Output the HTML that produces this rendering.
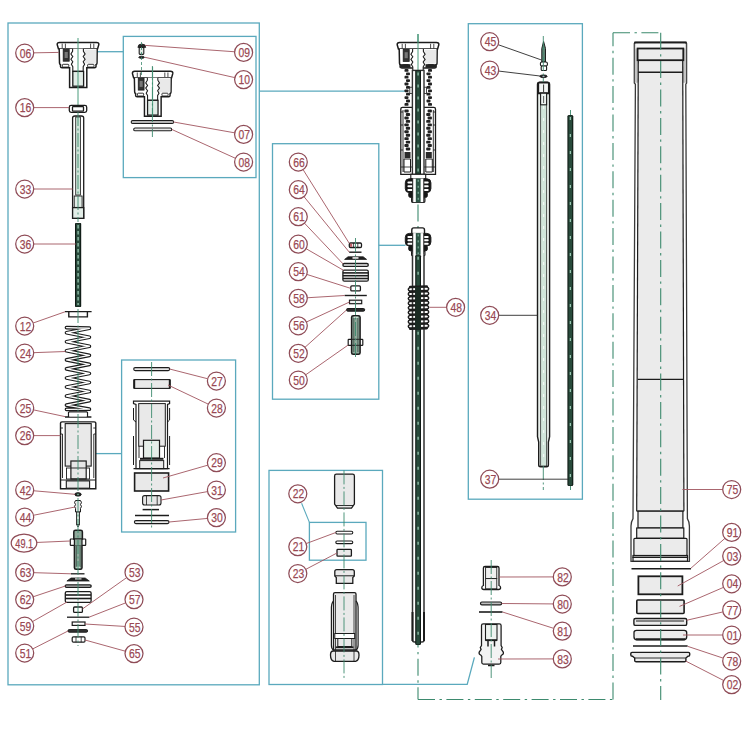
<!DOCTYPE html>
<html><head><meta charset="utf-8"><style>
html,body{margin:0;padding:0;background:#fff;}
svg{display:block;font-family:"Liberation Sans",sans-serif;}
</style></head><body>
<svg width="750" height="750" viewBox="0 0 750 750">
<rect width="750" height="750" fill="#fff"/>
<rect x="8" y="23" width="251.3" height="661.8" fill="none" stroke="#5aa9bd" stroke-width="1.3" rx="0" />
<rect x="123.3" y="36.4" width="132.7" height="141.2" fill="none" stroke="#5aa9bd" stroke-width="1.3" rx="0" />
<rect x="121.6" y="360" width="114.0" height="172" fill="none" stroke="#5aa9bd" stroke-width="1.3" rx="0" />
<rect x="272.5" y="143.7" width="106.30000000000001" height="255.5" fill="none" stroke="#5aa9bd" stroke-width="1.3" rx="0" />
<rect x="269" y="470.4" width="113.5" height="214.10000000000002" fill="none" stroke="#5aa9bd" stroke-width="1.3" rx="0" />
<rect x="309.4" y="522.4" width="56.60000000000002" height="37.80000000000007" fill="none" stroke="#5aa9bd" stroke-width="1.3" rx="0" />
<rect x="468.3" y="23.7" width="114.09999999999997" height="475.5" fill="none" stroke="#5aa9bd" stroke-width="1.3" rx="0" />
<line x1="92" y1="51.7" x2="123.3" y2="51.7" stroke="#5aa9bd" stroke-width="1.3" />
<line x1="259.3" y1="91.1" x2="405" y2="91.1" stroke="#5aa9bd" stroke-width="1.3" />
<line x1="96" y1="453.6" x2="121.6" y2="453.6" stroke="#5aa9bd" stroke-width="1.3" />
<line x1="378.8" y1="245.3" x2="405.5" y2="245.3" stroke="#5aa9bd" stroke-width="1.3" />
<line x1="301.6" y1="503.3" x2="309.4" y2="522.4" stroke="#5aa9bd" stroke-width="1.1" />
<path d="M382.5 684.4 L467.2 684.4 L474.4 657.3" fill="none" stroke="#5aa9bd" stroke-width="1.3" />
<line x1="418" y1="34" x2="418" y2="699.5" stroke="#3d8a6e" stroke-width="1.1" stroke-dasharray="17 4.5 2.4 4.5"/>
<line x1="418" y1="699.5" x2="613" y2="699.5" stroke="#3d8a6e" stroke-width="1.1" stroke-dasharray="17 4.5 2.4 4.5"/>
<line x1="613" y1="699.5" x2="613" y2="32.7" stroke="#3d8a6e" stroke-width="1.1" stroke-dasharray="17 4.5 2.4 4.5"/>
<line x1="613" y1="32.7" x2="660.7" y2="32.7" stroke="#3d8a6e" stroke-width="1.1" stroke-dasharray="17 4.5 2.4 4.5"/>
<g transform="translate(0 0) translate(78 0) scale(1 1) translate(-78 0)">
<path d="M57.2 44.6 Q57 42.4 59.5 42.4 L96.5 42.4 Q99.2 42.4 98.8 44.6 L97.6 48.8 L58.4 48.8 Z" fill="#fff" stroke="#1c1c1c" stroke-width="1.5" />
<line x1="62.2" y1="43.6" x2="62.2" y2="48.3" stroke="#1c1c1c" stroke-width="0.8" />
<line x1="65.4" y1="43.6" x2="65.4" y2="48.3" stroke="#1c1c1c" stroke-width="0.8" />
<line x1="90.6" y1="43.6" x2="90.6" y2="48.3" stroke="#1c1c1c" stroke-width="0.8" />
<line x1="93.8" y1="43.6" x2="93.8" y2="48.3" stroke="#1c1c1c" stroke-width="0.8" />
<path d="M59.2 48.8 L59.5 63 Q59.5 64.2 60.5 64.6 L60.5 66.5 Q60.5 67.8 62 67.8 L69.6 67.8 L69.6 87.4 L86.8 87.4 L86.8 67.8 L94.5 67.8 Q96 67.8 96 66.5 L96 64.6 Q97 64.2 97 63 L97.2 48.8" fill="#fff" stroke="#1c1c1c" stroke-width="1.5" />
<rect x="84.6" y="49.6" width="11.6" height="13.8" fill="#e9e9e9" stroke="none" stroke-width="0" rx="0" />
<rect x="63.2" y="49.2" width="6" height="12" fill="#333" stroke="#1c1c1c" stroke-width="0.8" rx="0" />
<rect x="64.6" y="52" width="3.2" height="6" fill="#777" stroke="none" stroke-width="0" rx="0" />
<rect x="62.4" y="64.3" width="6.4" height="2.8" fill="#fff" stroke="#1c1c1c" stroke-width="0.9" rx="0.8" />
<rect x="87.6" y="64.3" width="6.4" height="2.8" fill="#fff" stroke="#1c1c1c" stroke-width="0.9" rx="0.8" />
<path d="M72.6 48.8 L72.6 51.3 L70.9 54 L72.8 56.6 L70.9 59.2 L72.8 61.8 L71.4 64.3 L72.8 66.6 L72.8 71.4 L83.2 71.4 L83.2 66.6 L84.6 64.3 L83.2 61.8 L85.1 59.2 L83.2 56.6 L85.1 54 L83.4 51.3 L83.4 48.8" fill="#fff" stroke="#1c1c1c" stroke-width="1.1" />
<rect x="72.8" y="71.4" width="10.8" height="14.8" fill="#e2ede7" stroke="#1c1c1c" stroke-width="1.3" rx="0" />
<line x1="78" y1="38" x2="78" y2="88" stroke="#4b9c7c" stroke-width="1.0" />
</g>
<line x1="78" y1="87.4" x2="78" y2="105.4" stroke="#4b9c7c" stroke-width="1.0" />
<rect x="69.3" y="105.4" width="17.4" height="6.9" fill="#fff" stroke="#1c1c1c" stroke-width="1.3" rx="1.8" />
<rect x="72.5" y="106.6" width="11" height="4.6" fill="#fff" stroke="#1c1c1c" stroke-width="1.3" rx="0.6" />
<path d="M72.6 218.3 L72.6 118 Q72.6 116 75 116 L81.4 116 Q83.7 116 83.7 118 L83.7 218.3 Z" fill="#fff" stroke="#1c1c1c" stroke-width="1.3" />
<rect x="75.7" y="117" width="4.8" height="78" fill="#cfe3d8" stroke="#1c1c1c" stroke-width="0.8" rx="0" />
<rect x="74.2" y="196" width="7.9" height="11.6" fill="#e2ede7" stroke="#1c1c1c" stroke-width="0.9" rx="0" />
<rect x="72.6" y="207.6" width="11.1" height="10.7" fill="#e2ede7" stroke="#1c1c1c" stroke-width="1.3" rx="0" />
<rect x="75" y="223" width="6.200000000000003" height="84" fill="#0f1a15" stroke="none" stroke-width="0" rx="0.8" />
<rect x="76.1" y="223.6" width="4.000000000000003" height="82.8" fill="#284a3b" stroke="none" stroke-width="0" rx="0" />
<line x1="78.1" y1="225" x2="78.1" y2="305" stroke="#9fcfb9" stroke-width="1.2" stroke-dasharray="3.4 2.6"/>
<path d="M65 311.6 L91.6 311.6 M68.8 311.6 L68.8 316.9 L87.4 316.9 L87.4 311.6" fill="none" stroke="#1c1c1c" stroke-width="1.4" />
<path d="M66.50 327.60 L89.40 328.20 L66.50 332.70 L89.40 337.25 L66.50 341.75 L89.40 346.30 L66.50 350.80 L89.40 355.35 L66.50 359.85 L89.40 364.40 L66.50 368.90 L89.40 373.45 L66.50 377.95 L89.40 382.50 L66.50 387.00 L89.40 391.55 L66.50 396.05 L89.40 400.60 L66.50 405.10 L89.40 409.15 L66.50 409.35" fill="none" stroke="#1c1c1c" stroke-width="3.7" stroke-linejoin="round" stroke-linecap="round"/>
<path d="M66.50 327.60 L89.40 328.20 L66.50 332.70 L89.40 337.25 L66.50 341.75 L89.40 346.30 L66.50 350.80 L89.40 355.35 L66.50 359.85 L89.40 364.40 L66.50 368.90 L89.40 373.45 L66.50 377.95 L89.40 382.50 L66.50 387.00 L89.40 391.55 L66.50 396.05 L89.40 400.60 L66.50 405.10 L89.40 409.15 L66.50 409.35" fill="none" stroke="#fff" stroke-width="1.4" stroke-linejoin="round" stroke-linecap="round"/>
<path d="M68.6 412 L68.6 416.8 M87.4 412 L87.4 416.8 M68.6 412 L87.4 412 M65 417 L91.4 417" fill="none" stroke="#1c1c1c" stroke-width="1.4" />
<rect x="69.2" y="412.6" width="17.6" height="4" fill="#fff" stroke="none" stroke-width="0" rx="0" />
<path d="M60.5 423 Q60.5 421.9 62 421.9 L94.3 421.9 Q95.8 421.9 95.8 423 L95.8 488.8 L60.5 488.8 Z" fill="#fff" stroke="#1c1c1c" stroke-width="1.4" />
<rect x="65.2" y="423.6" width="26" height="42.5" fill="#e9e9e9" stroke="#1c1c1c" stroke-width="1.1" rx="0" />
<path d="M60.5 428 L63 428 M95.8 428 L93.3 428 M60.5 434 L62.5 434 L62.5 478 M95.8 434 L93.8 434 L93.8 478" fill="none" stroke="#1c1c1c" stroke-width="0.9" />
<rect x="70.9" y="461" width="15.3" height="18" fill="#e7e7e7" stroke="#1c1c1c" stroke-width="1.2" rx="0" />
<rect x="66.5" y="468" width="23" height="11" fill="none" stroke="#1c1c1c" stroke-width="0.9" rx="0" />
<rect x="66.3" y="480.9" width="23.3" height="7.3" fill="#e9e9e9" stroke="#1c1c1c" stroke-width="1.1" rx="0" />
<line x1="60.5" y1="480" x2="95.8" y2="480" stroke="#1c1c1c" stroke-width="1" />
<ellipse cx="78" cy="494.4" rx="3.2" ry="1.7" fill="#222" stroke="#1c1c1c" stroke-width="1"/>
<ellipse cx="78" cy="494.4" rx="1.2" ry="0.6" fill="#9a9"/>
<path d="M75.5 500.5 L80.5 500.5 L81.5 502.5 L80.5 504.5 L81.5 506.5 L80.5 508.5 L80.5 512 L75.5 512 L75.5 508.5 L74.5 506.5 L75.5 504.5 L74.5 502.5 Z" fill="#e7e7e7" stroke="#1c1c1c" stroke-width="1" />
<rect x="76.6" y="512" width="2.8" height="12.5" fill="#d0e5da" stroke="#1c1c1c" stroke-width="0.9" rx="0" />
<path d="M76.6 524.5 L78 527 L79.4 524.5" fill="none" stroke="#1c1c1c" stroke-width="0.9" />
<rect x="70.3" y="539" width="15.4" height="6.4" fill="#fff" stroke="#1c1c1c" stroke-width="1.2" rx="0.6" />
<path d="M73.8 531.8 Q73.8 530.3 75.5 530.3 L80.7 530.3 Q82.4 530.3 82.4 531.8 L82.4 539 L73.8 539 Z" fill="#8fa99b" stroke="#1c1c1c" stroke-width="1.5" />
<path d="M74.4 545.4 L74.4 567.8 Q74.4 569.3 76 569.3 L80.4 569.3 Q82 569.3 82 567.8 L82 545.4" fill="#8fa99b" stroke="#1c1c1c" stroke-width="1.5" />
<rect x="74.4" y="539.5" width="7.6" height="5.6" fill="#8fa99b" stroke="none" stroke-width="0" rx="0" />
<line x1="74.4" y1="539" x2="74.4" y2="545.4" stroke="#1c1c1c" stroke-width="1.2" />
<line x1="82" y1="539" x2="82" y2="545.4" stroke="#1c1c1c" stroke-width="1.2" />
<line x1="76.3" y1="546" x2="76.3" y2="567" stroke="#2a3a32" stroke-width="0.7" />
<line x1="80.1" y1="546" x2="80.1" y2="567" stroke="#2a3a32" stroke-width="0.7" />
<rect x="76.5" y="566.6" width="3.4" height="1.5" fill="#cfe3d8" stroke="none" stroke-width="0" rx="0" />
<line x1="71" y1="573.8" x2="84.5" y2="573.8" stroke="#1c1c1c" stroke-width="1.3" />
<path d="M66.9 581 L71 578 L85.2 578 L89.3 581 Z" fill="#222" stroke="#1c1c1c" stroke-width="0.8" />
<rect x="75" y="578.3" width="6.5" height="1.2" fill="#ddd" stroke="none" stroke-width="0" rx="0" />
<rect x="65.2" y="584.8" width="26" height="2.6" fill="#bbb" stroke="#1c1c1c" stroke-width="1.3" rx="1.3" />
<rect x="65.3" y="591.6" width="25.8" height="10.8" fill="#fff" stroke="#1c1c1c" stroke-width="1.3" rx="1.5" />
<line x1="65.3" y1="595" x2="91.1" y2="595" stroke="#1c1c1c" stroke-width="1.6" />
<line x1="65.3" y1="598.5" x2="91.1" y2="598.5" stroke="#1c1c1c" stroke-width="1.6" />
<rect x="73.6" y="607" width="8.8" height="5.4" fill="#fff" stroke="#1c1c1c" stroke-width="1.3" rx="1" />
<line x1="67" y1="617.2" x2="89.2" y2="617.2" stroke="#1c1c1c" stroke-width="1.3" />
<rect x="72.2" y="622" width="12.8" height="3.4" fill="#fff" stroke="#1c1c1c" stroke-width="1.2" rx="0" />
<rect x="68" y="629.6" width="19.6" height="2.6" fill="#333" stroke="#1c1c1c" stroke-width="1" rx="1.2" />
<rect x="72.2" y="636.8" width="12.8" height="5.4" fill="#fff" stroke="#1c1c1c" stroke-width="1.2" rx="1.2" />
<line x1="76" y1="636.8" x2="76" y2="642.2" stroke="#1c1c1c" stroke-width="0.8" />
<line x1="81.2" y1="636.8" x2="81.2" y2="642.2" stroke="#1c1c1c" stroke-width="0.8" />
<path d="M137.9 47.4 Q137.9 44 141.8 44 Q145.7 44 145.7 47.4 Z" fill="#2a2a2a" stroke="#1c1c1c" stroke-width="0.8" />
<rect x="139.2" y="47.4" width="4.6" height="7" fill="#e3ebe6" stroke="#1c1c1c" stroke-width="1.1" rx="0.8" />
<ellipse cx="141.6" cy="57.3" rx="2.9" ry="1.1" fill="#222" stroke="#1c1c1c" stroke-width="0.8"/>
<g transform="translate(74.6 28.9) translate(78 0) scale(0.97 1) translate(-78 0)">
<path d="M57.2 44.6 Q57 42.4 59.5 42.4 L96.5 42.4 Q99.2 42.4 98.8 44.6 L97.6 48.8 L58.4 48.8 Z" fill="#fff" stroke="#1c1c1c" stroke-width="1.5" />
<line x1="62.2" y1="43.6" x2="62.2" y2="48.3" stroke="#1c1c1c" stroke-width="0.8" />
<line x1="65.4" y1="43.6" x2="65.4" y2="48.3" stroke="#1c1c1c" stroke-width="0.8" />
<line x1="90.6" y1="43.6" x2="90.6" y2="48.3" stroke="#1c1c1c" stroke-width="0.8" />
<line x1="93.8" y1="43.6" x2="93.8" y2="48.3" stroke="#1c1c1c" stroke-width="0.8" />
<path d="M59.2 48.8 L59.5 63 Q59.5 64.2 60.5 64.6 L60.5 66.5 Q60.5 67.8 62 67.8 L69.6 67.8 L69.6 87.4 L86.8 87.4 L86.8 67.8 L94.5 67.8 Q96 67.8 96 66.5 L96 64.6 Q97 64.2 97 63 L97.2 48.8" fill="#fff" stroke="#1c1c1c" stroke-width="1.5" />
<rect x="84.6" y="49.6" width="11.6" height="13.8" fill="#e9e9e9" stroke="none" stroke-width="0" rx="0" />
<rect x="63.2" y="49.2" width="6" height="12" fill="#333" stroke="#1c1c1c" stroke-width="0.8" rx="0" />
<rect x="64.6" y="52" width="3.2" height="6" fill="#777" stroke="none" stroke-width="0" rx="0" />
<rect x="62.4" y="64.3" width="6.4" height="2.8" fill="#fff" stroke="#1c1c1c" stroke-width="0.9" rx="0.8" />
<rect x="87.6" y="64.3" width="6.4" height="2.8" fill="#fff" stroke="#1c1c1c" stroke-width="0.9" rx="0.8" />
<path d="M72.6 48.8 L72.6 51.3 L70.9 54 L72.8 56.6 L70.9 59.2 L72.8 61.8 L71.4 64.3 L72.8 66.6 L72.8 71.4 L83.2 71.4 L83.2 66.6 L84.6 64.3 L83.2 61.8 L85.1 59.2 L83.2 56.6 L85.1 54 L83.4 51.3 L83.4 48.8" fill="#fff" stroke="#1c1c1c" stroke-width="1.1" />
<rect x="72.8" y="71.4" width="10.8" height="14.8" fill="#e2ede7" stroke="#1c1c1c" stroke-width="1.3" rx="0" />
<line x1="78" y1="38" x2="78" y2="88" stroke="#4b9c7c" stroke-width="1.0" />
</g>
<rect x="131.2" y="120.6" width="42.4" height="2.8" fill="#e8e8e8" stroke="#1c1c1c" stroke-width="1.1" rx="1.4" />
<rect x="133.7" y="128" width="38" height="2.8" fill="#e8e8e8" stroke="#1c1c1c" stroke-width="1.1" rx="1.4" />
<rect x="133.7" y="367.6" width="36" height="3" fill="#e8e8e8" stroke="#1c1c1c" stroke-width="1.1" rx="1.5" />
<rect x="134.2" y="379.6" width="35.6" height="8.8" fill="#e9e9e9" stroke="#1c1c1c" stroke-width="1.1" rx="0" />
<line x1="134.2" y1="379.6" x2="134.2" y2="388.4" stroke="#1c1c1c" stroke-width="2" />
<line x1="169.8" y1="379.6" x2="169.8" y2="388.4" stroke="#1c1c1c" stroke-width="2" />
<path d="M133.5 401.2 L169.6 401.2 L169.6 403.6 L167.5 404.5 L167.5 468.6 L136 468.6 L136 404.5 L133.5 403.6 Z" fill="#fff" stroke="#1c1c1c" stroke-width="1.2" />
<path d="M133.5 408 L133.5 420 L136 422 M169.6 408 L169.6 420 L167.5 422 M133.5 436 L133.5 465 M169.6 436 L169.6 465" fill="none" stroke="#1c1c1c" stroke-width="1" />
<rect x="138.7" y="403.6" width="26.6" height="42.6" fill="#e9e9e9" stroke="#1c1c1c" stroke-width="1" rx="0" />
<rect x="143.5" y="440.3" width="16" height="17.8" fill="#e6eee9" stroke="#1c1c1c" stroke-width="1.2" rx="0" />
<line x1="140" y1="458.8" x2="163.5" y2="458.8" stroke="#1c1c1c" stroke-width="2" />
<path d="M139 446.2 L139 458 M164.5 446.2 L164.5 458" fill="none" stroke="#1c1c1c" stroke-width="0.9" />
<rect x="139.7" y="460.6" width="24" height="8" fill="#e9e9e9" stroke="#1c1c1c" stroke-width="1" rx="0" />
<line x1="133.5" y1="468.6" x2="169.6" y2="468.6" stroke="#1c1c1c" stroke-width="1.3" />
<rect x="134.6" y="473" width="34" height="18" fill="#e9e9e9" stroke="#1c1c1c" stroke-width="1.6" rx="0" />
<rect x="142.6" y="495.6" width="18.4" height="9.4" fill="#e6e6e6" stroke="#1c1c1c" stroke-width="1.1" rx="2" />
<line x1="146.5" y1="495.6" x2="146.5" y2="505" stroke="#1c1c1c" stroke-width="0.8" />
<line x1="157.2" y1="495.6" x2="157.2" y2="505" stroke="#1c1c1c" stroke-width="0.8" />
<line x1="142.6" y1="509.6" x2="159" y2="509.6" stroke="#1c1c1c" stroke-width="1.5" />
<line x1="135" y1="515.6" x2="169" y2="515.6" stroke="#1c1c1c" stroke-width="1.5" />
<rect x="134.4" y="520.6" width="34.6" height="3" fill="#e8e8e8" stroke="#1c1c1c" stroke-width="1.1" rx="1.5" />
<path d="M400.8 109 Q400.8 107.3 402.5 107.3 L433.8 107.3 Q435.5 107.3 435.5 109 L435.5 174.3 L400.8 174.3 Z" fill="#fff" stroke="#1c1c1c" stroke-width="1.3" />
<path d="M403 110 L403 172 M433.3 110 L433.3 172" fill="none" stroke="#1c1c1c" stroke-width="0.9" />
<path d="M400.8 112 L403 112 M400.8 125 L403 125 M400.8 150 L403 150 M435.5 112 L433.3 112 M435.5 125 L433.3 125 M435.5 150 L433.3 150" fill="none" stroke="#1c1c1c" stroke-width="0.9" />
<rect x="404.4" y="109.6" width="4.3" height="2.9" fill="#222" stroke="none" stroke-width="0" rx="0.9" />
<rect x="427.6" y="109.6" width="4.3" height="2.9" fill="#222" stroke="none" stroke-width="0" rx="0.9" />
<rect x="405.79999999999995" y="113.05" width="4.3" height="2.9" fill="#222" stroke="none" stroke-width="0" rx="0.9" />
<rect x="426.20000000000005" y="113.05" width="4.3" height="2.9" fill="#222" stroke="none" stroke-width="0" rx="0.9" />
<rect x="404.4" y="116.5" width="4.3" height="2.9" fill="#222" stroke="none" stroke-width="0" rx="0.9" />
<rect x="427.6" y="116.5" width="4.3" height="2.9" fill="#222" stroke="none" stroke-width="0" rx="0.9" />
<rect x="405.79999999999995" y="119.94999999999999" width="4.3" height="2.9" fill="#222" stroke="none" stroke-width="0" rx="0.9" />
<rect x="426.20000000000005" y="119.94999999999999" width="4.3" height="2.9" fill="#222" stroke="none" stroke-width="0" rx="0.9" />
<rect x="404.4" y="123.39999999999999" width="4.3" height="2.9" fill="#222" stroke="none" stroke-width="0" rx="0.9" />
<rect x="427.6" y="123.39999999999999" width="4.3" height="2.9" fill="#222" stroke="none" stroke-width="0" rx="0.9" />
<rect x="405.79999999999995" y="126.85" width="4.3" height="2.9" fill="#222" stroke="none" stroke-width="0" rx="0.9" />
<rect x="426.20000000000005" y="126.85" width="4.3" height="2.9" fill="#222" stroke="none" stroke-width="0" rx="0.9" />
<rect x="404.4" y="130.3" width="4.3" height="2.9" fill="#222" stroke="none" stroke-width="0" rx="0.9" />
<rect x="427.6" y="130.3" width="4.3" height="2.9" fill="#222" stroke="none" stroke-width="0" rx="0.9" />
<rect x="405.79999999999995" y="133.75" width="4.3" height="2.9" fill="#222" stroke="none" stroke-width="0" rx="0.9" />
<rect x="426.20000000000005" y="133.75" width="4.3" height="2.9" fill="#222" stroke="none" stroke-width="0" rx="0.9" />
<rect x="404.4" y="137.2" width="4.3" height="2.9" fill="#222" stroke="none" stroke-width="0" rx="0.9" />
<rect x="427.6" y="137.2" width="4.3" height="2.9" fill="#222" stroke="none" stroke-width="0" rx="0.9" />
<rect x="405.79999999999995" y="140.65" width="4.3" height="2.9" fill="#222" stroke="none" stroke-width="0" rx="0.9" />
<rect x="426.20000000000005" y="140.65" width="4.3" height="2.9" fill="#222" stroke="none" stroke-width="0" rx="0.9" />
<rect x="404.4" y="144.1" width="4.3" height="2.9" fill="#222" stroke="none" stroke-width="0" rx="0.9" />
<rect x="427.6" y="144.1" width="4.3" height="2.9" fill="#222" stroke="none" stroke-width="0" rx="0.9" />
<rect x="405.79999999999995" y="147.55" width="4.3" height="2.9" fill="#222" stroke="none" stroke-width="0" rx="0.9" />
<rect x="426.20000000000005" y="147.55" width="4.3" height="2.9" fill="#222" stroke="none" stroke-width="0" rx="0.9" />
<rect x="404.5" y="152" width="6" height="6" fill="#2a2a2a" stroke="none" stroke-width="0" rx="0" />
<rect x="425.8" y="152" width="6" height="6" fill="#2a2a2a" stroke="none" stroke-width="0" rx="0" />
<path d="M404 159 L404 172 L410.5 172 L410.5 159 Z M425.8 159 L425.8 172 L432.3 172 L432.3 159 Z" fill="#fff" stroke="#1c1c1c" stroke-width="1" />
<line x1="400.8" y1="167" x2="435.5" y2="167" stroke="#1c1c1c" stroke-width="0.8" />
<rect x="404.5" y="69.0" width="4.0" height="2.8" fill="#222" stroke="none" stroke-width="0" rx="0.9" />
<rect x="428.0" y="69.0" width="4.0" height="2.8" fill="#222" stroke="none" stroke-width="0" rx="0.9" />
<rect x="406.0" y="72.4" width="4.0" height="2.8" fill="#222" stroke="none" stroke-width="0" rx="0.9" />
<rect x="426.5" y="72.4" width="4.0" height="2.8" fill="#222" stroke="none" stroke-width="0" rx="0.9" />
<rect x="404.5" y="75.8" width="4.0" height="2.8" fill="#222" stroke="none" stroke-width="0" rx="0.9" />
<rect x="428.0" y="75.8" width="4.0" height="2.8" fill="#222" stroke="none" stroke-width="0" rx="0.9" />
<rect x="406.0" y="79.2" width="4.0" height="2.8" fill="#222" stroke="none" stroke-width="0" rx="0.9" />
<rect x="426.5" y="79.2" width="4.0" height="2.8" fill="#222" stroke="none" stroke-width="0" rx="0.9" />
<rect x="404.5" y="82.6" width="4.0" height="2.8" fill="#222" stroke="none" stroke-width="0" rx="0.9" />
<rect x="428.0" y="82.6" width="4.0" height="2.8" fill="#222" stroke="none" stroke-width="0" rx="0.9" />
<rect x="406.0" y="86.0" width="4.0" height="2.8" fill="#222" stroke="none" stroke-width="0" rx="0.9" />
<rect x="426.5" y="86.0" width="4.0" height="2.8" fill="#222" stroke="none" stroke-width="0" rx="0.9" />
<rect x="404.5" y="89.4" width="4.0" height="2.8" fill="#222" stroke="none" stroke-width="0" rx="0.9" />
<rect x="428.0" y="89.4" width="4.0" height="2.8" fill="#222" stroke="none" stroke-width="0" rx="0.9" />
<rect x="406.0" y="92.8" width="4.0" height="2.8" fill="#222" stroke="none" stroke-width="0" rx="0.9" />
<rect x="426.5" y="92.8" width="4.0" height="2.8" fill="#222" stroke="none" stroke-width="0" rx="0.9" />
<rect x="404.5" y="96.2" width="4.0" height="2.8" fill="#222" stroke="none" stroke-width="0" rx="0.9" />
<rect x="428.0" y="96.2" width="4.0" height="2.8" fill="#222" stroke="none" stroke-width="0" rx="0.9" />
<rect x="406.0" y="99.6" width="4.0" height="2.8" fill="#222" stroke="none" stroke-width="0" rx="0.9" />
<rect x="426.5" y="99.6" width="4.0" height="2.8" fill="#222" stroke="none" stroke-width="0" rx="0.9" />
<rect x="404.5" y="103.0" width="4.0" height="2.8" fill="#222" stroke="none" stroke-width="0" rx="0.9" />
<rect x="428.0" y="103.0" width="4.0" height="2.8" fill="#222" stroke="none" stroke-width="0" rx="0.9" />
<rect x="409.8" y="87.2" width="2.6" height="6.4" fill="#fff" stroke="#1c1c1c" stroke-width="0.8" rx="0" />
<rect x="423.8" y="87.2" width="2.6" height="6.4" fill="#fff" stroke="#1c1c1c" stroke-width="0.8" rx="0" />
<g transform="translate(340 0.2) translate(78 0) scale(1 1) translate(-78 0)">
<path d="M57.2 44.6 Q57 42.4 59.5 42.4 L96.5 42.4 Q99.2 42.4 98.8 44.6 L97.6 48.8 L58.4 48.8 Z" fill="#fff" stroke="#1c1c1c" stroke-width="1.5" />
<line x1="62.2" y1="43.6" x2="62.2" y2="48.3" stroke="#1c1c1c" stroke-width="0.8" />
<line x1="65.4" y1="43.6" x2="65.4" y2="48.3" stroke="#1c1c1c" stroke-width="0.8" />
<line x1="90.6" y1="43.6" x2="90.6" y2="48.3" stroke="#1c1c1c" stroke-width="0.8" />
<line x1="93.8" y1="43.6" x2="93.8" y2="48.3" stroke="#1c1c1c" stroke-width="0.8" />
<path d="M59.2 48.8 L59.5 63 Q59.5 64.2 60.5 64.6 L60.5 66.5 Q60.5 67.8 62 67.8 L94.5 67.8 Q96 67.8 96 66.5 L96 64.6 Q97 64.2 97 63 L97.2 48.8" fill="#fff" stroke="#1c1c1c" stroke-width="1.5" />
<rect x="84.6" y="49.6" width="11.6" height="13.8" fill="#e9e9e9" stroke="none" stroke-width="0" rx="0" />
<rect x="63.2" y="49.2" width="6" height="12" fill="#333" stroke="#1c1c1c" stroke-width="0.8" rx="0" />
<rect x="64.6" y="52" width="3.2" height="6" fill="#777" stroke="none" stroke-width="0" rx="0" />
<rect x="62.4" y="64.3" width="6.4" height="2.8" fill="#fff" stroke="#1c1c1c" stroke-width="0.9" rx="0.8" />
<rect x="87.6" y="64.3" width="6.4" height="2.8" fill="#fff" stroke="#1c1c1c" stroke-width="0.9" rx="0.8" />
<path d="M72.6 48.8 L72.6 51.3 L70.9 54 L72.8 56.6 L70.9 59.2 L72.8 61.8 L71.4 64.3 L72.8 66.6 L72.8 71.4 L83.2 71.4 L83.2 66.6 L84.6 64.3 L83.2 61.8 L85.1 59.2 L83.2 56.6 L85.1 54 L83.4 51.3 L83.4 48.8" fill="#fff" stroke="#1c1c1c" stroke-width="1.1" />
</g>
<rect x="399.5" y="64.2" width="11" height="3.6" fill="#222" stroke="none" stroke-width="0" rx="0" />
<rect x="425.5" y="64.2" width="11" height="3.6" fill="#222" stroke="none" stroke-width="0" rx="0" />
<line x1="418" y1="34" x2="418" y2="70" stroke="#4b9c7c" stroke-width="1.0" />
<rect x="412.4" y="70.4" width="11.6" height="104" fill="#fff" stroke="#333" stroke-width="1.4" rx="0" />
<rect x="415.2" y="70.4" width="5.800000000000011" height="104.0" fill="#0f1a15" stroke="none" stroke-width="0" rx="0" />
<rect x="416.3" y="71.0" width="3.600000000000011" height="102.8" fill="#284a3b" stroke="none" stroke-width="0" rx="0" />
<line x1="418.1" y1="72.4" x2="418.1" y2="172.4" stroke="#9fcfb9" stroke-width="1.2" stroke-dasharray="3 9"/>
<rect x="410.8" y="174.3" width="14.9" height="4.5" fill="#fff" stroke="#1c1c1c" stroke-width="1.1" rx="0" />
<rect x="405.3" y="178.8" width="25.6" height="13.8" fill="#161616" stroke="#1c1c1c" stroke-width="1" rx="4" />
<rect x="407.4" y="181.56" width="5.8" height="2.0" fill="#fff" stroke="none" stroke-width="0" rx="1" />
<rect x="422.9" y="181.56" width="5.8" height="2.0" fill="#fff" stroke="none" stroke-width="0" rx="1" />
<rect x="407.4" y="185.286" width="5.8" height="2.0" fill="#fff" stroke="none" stroke-width="0" rx="1" />
<rect x="422.9" y="185.286" width="5.8" height="2.0" fill="#fff" stroke="none" stroke-width="0" rx="1" />
<rect x="407.4" y="189.012" width="5.8" height="2.0" fill="#fff" stroke="none" stroke-width="0" rx="1" />
<rect x="422.9" y="189.012" width="5.8" height="2.0" fill="#fff" stroke="none" stroke-width="0" rx="1" />
<rect x="408.7" y="192.10000000000002" width="5.9" height="5.4" fill="#161616" stroke="#1c1c1c" stroke-width="1" rx="2" />
<rect x="421.5" y="192.10000000000002" width="5.9" height="5.4" fill="#161616" stroke="#1c1c1c" stroke-width="1" rx="2" />
<rect x="411.6" y="197.50000000000003" width="13.3" height="4.8" fill="#fff" stroke="#1c1c1c" stroke-width="1.2" rx="1" />
<rect x="412.6" y="178.5" width="11.3" height="23.6" fill="#fff" stroke="none" stroke-width="0" rx="0" />
<line x1="412.7" y1="178.5" x2="412.7" y2="202.20000000000002" stroke="#1c1c1c" stroke-width="1" />
<line x1="423.8" y1="178.5" x2="423.8" y2="202.20000000000002" stroke="#1c1c1c" stroke-width="1" />
<rect x="415.8" y="178.5" width="4.8" height="23.8" fill="#2d5445" stroke="none" stroke-width="0" rx="0" />
<line x1="418.2" y1="179.8" x2="418.2" y2="200.60000000000002" stroke="#a7dcc5" stroke-width="0.8" stroke-dasharray="2 4"/>
<path d="M413.8 227.9 L422.5 227.9 Q424.5 227.9 424.5 229.9 L424.5 233.8 L411.8 233.8 L411.8 229.9 Q411.8 227.9 413.8 227.9 Z" fill="#fff" stroke="#1c1c1c" stroke-width="1.4" />
<rect x="405.3" y="233.4" width="25.6" height="12.6" fill="#161616" stroke="#1c1c1c" stroke-width="1" rx="4" />
<rect x="407.4" y="235.92000000000002" width="5.8" height="2.0" fill="#fff" stroke="none" stroke-width="0" rx="1" />
<rect x="422.9" y="235.92000000000002" width="5.8" height="2.0" fill="#fff" stroke="none" stroke-width="0" rx="1" />
<rect x="407.4" y="239.322" width="5.8" height="2.0" fill="#fff" stroke="none" stroke-width="0" rx="1" />
<rect x="422.9" y="239.322" width="5.8" height="2.0" fill="#fff" stroke="none" stroke-width="0" rx="1" />
<rect x="407.4" y="242.72400000000002" width="5.8" height="2.0" fill="#fff" stroke="none" stroke-width="0" rx="1" />
<rect x="422.9" y="242.72400000000002" width="5.8" height="2.0" fill="#fff" stroke="none" stroke-width="0" rx="1" />
<rect x="408.7" y="245.5" width="5.9" height="5.4" fill="#161616" stroke="#1c1c1c" stroke-width="1" rx="2" />
<rect x="421.5" y="245.5" width="5.9" height="5.4" fill="#161616" stroke="#1c1c1c" stroke-width="1" rx="2" />
<rect x="411.6" y="250.9" width="13.3" height="4.8" fill="#fff" stroke="#1c1c1c" stroke-width="1.2" rx="1" />
<rect x="412.6" y="233.1" width="11.3" height="22.4" fill="#fff" stroke="none" stroke-width="0" rx="0" />
<line x1="412.7" y1="233.1" x2="412.7" y2="255.6" stroke="#1c1c1c" stroke-width="1" />
<line x1="423.8" y1="233.1" x2="423.8" y2="255.6" stroke="#1c1c1c" stroke-width="1" />
<rect x="415.8" y="233.1" width="4.8" height="22.6" fill="#2d5445" stroke="none" stroke-width="0" rx="0" />
<line x1="418.2" y1="234.4" x2="418.2" y2="254.0" stroke="#a7dcc5" stroke-width="0.8" stroke-dasharray="2 4"/>
<path d="M412.5 254.7 L412.5 640 Q412.5 642 414.5 642 L422 642 Q424 642 424 640 L424 254.7" fill="#fff" stroke="#333" stroke-width="1.5" />
<rect x="415.2" y="254.7" width="5.800000000000011" height="390.3" fill="#0f1a15" stroke="none" stroke-width="0" rx="1.5" />
<rect x="416.3" y="255.29999999999998" width="3.600000000000011" height="389.1" fill="#284a3b" stroke="none" stroke-width="0" rx="0" />
<line x1="418.1" y1="256.7" x2="418.1" y2="643" stroke="#9fcfb9" stroke-width="1.2" stroke-dasharray="3 12"/>
<line x1="412.5" y1="612" x2="412.5" y2="641" stroke="#1c1c1c" stroke-width="2" />
<line x1="424" y1="612" x2="424" y2="641" stroke="#1c1c1c" stroke-width="2" />
<path d="M410.3 287.00 L426.7 286.50" fill="none" stroke="#1c1c1c" stroke-width="2.7" stroke-linecap="round"/>
<path d="M410.3 291.62 L426.7 291.12" fill="none" stroke="#1c1c1c" stroke-width="2.7" stroke-linecap="round"/>
<path d="M410.3 296.24 L426.7 295.74" fill="none" stroke="#1c1c1c" stroke-width="2.7" stroke-linecap="round"/>
<path d="M410.3 300.87 L426.7 300.37" fill="none" stroke="#1c1c1c" stroke-width="2.7" stroke-linecap="round"/>
<path d="M410.3 305.49 L426.7 304.99" fill="none" stroke="#1c1c1c" stroke-width="2.7" stroke-linecap="round"/>
<path d="M410.3 310.11 L426.7 309.61" fill="none" stroke="#1c1c1c" stroke-width="2.7" stroke-linecap="round"/>
<path d="M410.3 314.73 L426.7 314.23" fill="none" stroke="#1c1c1c" stroke-width="2.7" stroke-linecap="round"/>
<path d="M410.3 319.36 L426.7 318.86" fill="none" stroke="#1c1c1c" stroke-width="2.7" stroke-linecap="round"/>
<path d="M410.3 323.98 L426.7 323.48" fill="none" stroke="#1c1c1c" stroke-width="2.7" stroke-linecap="round"/>
<path d="M410.3 328.60 L426.7 328.10" fill="none" stroke="#1c1c1c" stroke-width="2.7" stroke-linecap="round"/>
<path d="M410 287.30 Q406.6 289.31 410 291.32 M427 286.80 Q430.4 288.81 427 290.82" fill="none" stroke="#1c1c1c" stroke-width="1.5" />
<path d="M410 291.92 Q406.6 293.93 410 295.94 M427 291.42 Q430.4 293.43 427 295.44" fill="none" stroke="#1c1c1c" stroke-width="1.5" />
<path d="M410 296.54 Q406.6 298.56 410 300.57 M427 296.04 Q430.4 298.06 427 300.07" fill="none" stroke="#1c1c1c" stroke-width="1.5" />
<path d="M410 301.17 Q406.6 303.18 410 305.19 M427 300.67 Q430.4 302.68 427 304.69" fill="none" stroke="#1c1c1c" stroke-width="1.5" />
<path d="M410 305.79 Q406.6 307.80 410 309.81 M427 305.29 Q430.4 307.30 427 309.31" fill="none" stroke="#1c1c1c" stroke-width="1.5" />
<path d="M410 310.41 Q406.6 312.42 410 314.43 M427 309.91 Q430.4 311.92 427 313.93" fill="none" stroke="#1c1c1c" stroke-width="1.5" />
<path d="M410 315.03 Q406.6 317.04 410 319.06 M427 314.53 Q430.4 316.54 427 318.56" fill="none" stroke="#1c1c1c" stroke-width="1.5" />
<path d="M410 319.66 Q406.6 321.67 410 323.68 M427 319.16 Q430.4 321.17 427 323.18" fill="none" stroke="#1c1c1c" stroke-width="1.5" />
<path d="M410 324.28 Q406.6 326.29 410 328.30 M427 323.78 Q430.4 325.79 427 327.80" fill="none" stroke="#1c1c1c" stroke-width="1.5" />
<rect x="415.2" y="287" width="5.8" height="42" fill="#1a2a22" stroke="none" stroke-width="0" rx="0" />
<rect x="349.3" y="243" width="12.2" height="4.5" fill="#fff" stroke="#1c1c1c" stroke-width="1.3" rx="1.2" />
<rect x="350" y="243.6" width="2.2" height="3.3" fill="#c0606a" stroke="none" stroke-width="0" rx="0" />
<line x1="353.6" y1="243" x2="353.6" y2="247.5" stroke="#1c1c1c" stroke-width="0.8" />
<line x1="357.8" y1="243" x2="357.8" y2="247.5" stroke="#1c1c1c" stroke-width="0.8" />
<line x1="349.2" y1="252.2" x2="361.5" y2="252.2" stroke="#1c1c1c" stroke-width="1.4" />
<path d="M344.6 259.4 L348 256.8 L363.2 256.8 L366.6 259.4 Z" fill="#1e1e1e" stroke="#1c1c1c" stroke-width="0.8" />
<rect x="352.5" y="257.2" width="6" height="1.5" fill="#fff" stroke="none" stroke-width="0" rx="0" />
<rect x="342.9" y="263.5" width="25.4" height="2.9" fill="#f2f2f2" stroke="#1c1c1c" stroke-width="1.3" rx="1.4" />
<rect x="342.9" y="270.2" width="25.4" height="11" fill="#fff" stroke="#1c1c1c" stroke-width="1.3" rx="1.5" />
<line x1="342.9" y1="272.9" x2="368.3" y2="272.9" stroke="#1c1c1c" stroke-width="1.6" />
<line x1="342.9" y1="275.7" x2="368.3" y2="275.7" stroke="#1c1c1c" stroke-width="1.6" />
<line x1="342.9" y1="278.5" x2="368.3" y2="278.5" stroke="#1c1c1c" stroke-width="1.6" />
<rect x="350.8" y="285.9" width="9.6" height="5" fill="#fff" stroke="#1c1c1c" stroke-width="1.3" rx="1" />
<line x1="344.6" y1="295.5" x2="366.8" y2="295.5" stroke="#1c1c1c" stroke-width="1.4" />
<rect x="349.5" y="300.2" width="12.2" height="3.5" fill="#f2f2f2" stroke="#1c1c1c" stroke-width="1.2" rx="0" />
<rect x="346.5" y="308.5" width="18.2" height="2.7" fill="#2a2a2a" stroke="#1c1c1c" stroke-width="1" rx="1.3" />
<rect x="348.2" y="339.3" width="14.6" height="6" fill="#fff" stroke="#1c1c1c" stroke-width="1.2" rx="0.6" />
<path d="M351.6 317.3 Q351.6 315.8 353.2 315.8 L358.5 315.8 Q360.1 315.8 360.1 317.3 L360.1 352.8 Q360.1 354.3 358.5 354.3 L353.2 354.3 Q351.6 354.3 351.6 352.8 Z" fill="#8fa99b" stroke="#1c1c1c" stroke-width="1.5" />
<line x1="353.8" y1="318" x2="353.8" y2="352" stroke="#2a3a32" stroke-width="0.7" />
<line x1="357.9" y1="318" x2="357.9" y2="352" stroke="#2a3a32" stroke-width="0.7" />
<rect x="353.9" y="316.6" width="3.9" height="1.4" fill="#cfe3d8" stroke="none" stroke-width="0" rx="0" />
<line x1="351.6" y1="339.3" x2="360.1" y2="339.3" stroke="#1c1c1c" stroke-width="0.9" />
<line x1="351.6" y1="345.3" x2="360.1" y2="345.3" stroke="#1c1c1c" stroke-width="0.9" />
<path d="M334.6 476 Q334.6 474.2 336.4 474.2 L352.6 474.2 Q354.4 474.2 354.4 476 L354.4 504 L351.5 508.2 L337.5 508.2 L334.6 504 Z" fill="#e9e9e9" stroke="#1c1c1c" stroke-width="1.3" />
<line x1="336" y1="505.5" x2="353" y2="505.5" stroke="#1c1c1c" stroke-width="0.9" />
<rect x="335.8" y="531.2" width="17" height="2.8" fill="#fff" stroke="#1c1c1c" stroke-width="1.1" rx="1.4" />
<rect x="335.8" y="541" width="17" height="2.6" fill="#fff" stroke="#1c1c1c" stroke-width="1.1" rx="1.3" />
<rect x="337" y="549.4" width="14.4" height="6.8" fill="#e9e9e9" stroke="#1c1c1c" stroke-width="1.3" rx="0.8" />
<path d="M334.8 571.5 Q334.8 569.6 336.8 569.6 L352.4 569.6 Q354.3 569.6 354.3 571.5 L354.3 576 L352.8 577.5 L352.8 583.4 L336.3 583.4 L336.3 577.5 L334.8 576 Z" fill="#e9e9e9" stroke="#1c1c1c" stroke-width="1.3" />
<line x1="335" y1="575.8" x2="354" y2="575.8" stroke="#1c1c1c" stroke-width="1" />
<path d="M333.5 594 Q333.5 592.6 335 592.6 L354.5 592.6 Q356 592.6 356 594 L356 650 L333.5 650 Z" fill="#e9e9e9" stroke="#1c1c1c" stroke-width="1.3" />
<path d="M333.5 601 Q331.2 603 331.4 610 L331.4 645 Q331.4 649 333.5 650 M356 601 Q358.3 603 358.1 610 L358.1 645 Q358.1 649 356 650" fill="none" stroke="#1c1c1c" stroke-width="1.2" />
<path d="M335.5 595 L335.5 650 M354 595 L354 650" fill="none" stroke="#1c1c1c" stroke-width="0.8" />
<rect x="334.8" y="633.5" width="19.9" height="5" fill="#fff" stroke="#1c1c1c" stroke-width="1" rx="0" />
<rect x="337.8" y="638.5" width="14" height="8" fill="#e9e9e9" stroke="#1c1c1c" stroke-width="1" rx="0" />
<line x1="336" y1="647.3" x2="353.5" y2="647.3" stroke="#1c1c1c" stroke-width="1.8" />
<path d="M333.2 651 Q330.5 651 330.5 655 Q330.5 660.5 334 661.4 L355.5 661.4 Q359 660.5 359 655 Q359 651 356.3 651 Z" fill="#e9e9e9" stroke="#1c1c1c" stroke-width="1.3" />
<path d="M335.5 651 L335.5 661 M354 651 L354 661" fill="none" stroke="#1c1c1c" stroke-width="0.8" />
<path d="M543.6 41.5 L545.5 48.5 L545.5 62 L541.8 62 L541.8 48.5 Z" fill="#5e8272" stroke="#1c1c1c" stroke-width="1.0" />
<rect x="540.4" y="62" width="7" height="4" fill="#fff" stroke="#1c1c1c" stroke-width="1.1" rx="1.5" />
<rect x="541.2" y="66" width="5.4" height="4.5" fill="#fff" stroke="#1c1c1c" stroke-width="1.1" rx="1" />
<ellipse cx="543.5" cy="76.3" rx="3.7" ry="1.4" fill="#1e1e1e" stroke="#1c1c1c" stroke-width="0.8"/>
<ellipse cx="543.5" cy="76.3" rx="1.2" ry="0.5" fill="#cde"/>
<path d="M537.5 436.7 L537.5 84.5 Q537.5 82.2 540 82.2 L547.1 82.2 Q549.6 82.2 549.6 84.5 L549.6 436.7 L548.4 442 L548.4 465 Q548.4 466.8 546.5 466.8 L540.6 466.8 Q538.7 466.8 538.7 465 L538.7 442 Z" fill="#e9f0ec" stroke="#1c1c1c" stroke-width="1.4" />
<rect x="540.7" y="93" width="6" height="373" fill="#d2e6db" stroke="#1c1c1c" stroke-width="0.7" rx="0" />
<path d="M538.2 83.5 Q538.2 82.6 539.5 82.6 L547.6 82.6 Q548.9 82.6 548.9 83.5 L548.9 93.2 L538.2 93.2 Z" fill="#f4f6f5" stroke="#1c1c1c" stroke-width="1.9" />
<line x1="543.6" y1="84.5" x2="543.6" y2="92" stroke="#1c1c1c" stroke-width="0.9" />
<rect x="540.6" y="93.2" width="6" height="11.6" fill="#eef4f1" stroke="#1c1c1c" stroke-width="1.1" rx="0" />
<line x1="543.6" y1="96" x2="543.6" y2="103" stroke="#1c1c1c" stroke-width="0.7" />
<line x1="543.7" y1="106" x2="543.7" y2="466" stroke="#fff" stroke-width="0.9" stroke-dasharray="3 9"/>
<rect x="567.4" y="115" width="5.899999999999977" height="371" fill="#0f1a15" stroke="none" stroke-width="0" rx="1.5" />
<rect x="568.5" y="115.6" width="3.699999999999977" height="369.8" fill="#284a3b" stroke="none" stroke-width="0" rx="0" />
<line x1="570.3499999999999" y1="117" x2="570.3499999999999" y2="484" stroke="#9fcfb9" stroke-width="1.2" stroke-dasharray="3 14"/>
<path d="M483.4 568 Q483.4 566.5 485 566.5 L497.4 566.5 Q499 566.5 499 568 L499 585.5 Q500.6 586 500.6 587.8 Q500.6 589.5 498.6 589.5 L483.8 589.5 Q481.8 589.5 481.8 587.8 Q481.8 586 483.4 585.5 Z" fill="#fff" stroke="#1c1c1c" stroke-width="1.3" />
<rect x="485.6" y="567.5" width="11.2" height="11" fill="#f0f0f0" stroke="#1c1c1c" stroke-width="0.9" rx="0" />
<rect x="485.6" y="578.6" width="11.2" height="10.2" fill="#f0f0f0" stroke="#1c1c1c" stroke-width="0.9" rx="0" />
<rect x="480.5" y="602" width="21.1" height="2.8" fill="#bdbdbd" stroke="#1c1c1c" stroke-width="1.2" rx="1.4" />
<line x1="479" y1="612" x2="502.5" y2="612" stroke="#1c1c1c" stroke-width="1.6" />
<path d="M481.5 625.5 Q481.5 623.9 483.2 623.9 L499.4 623.9 Q501.1 623.9 501.1 625.5 L501.1 645.5 L502.2 647.5 L501.4 649.5 L503.3 652 Q504 654.2 501.5 655.3 L500.8 656.5 L500.8 662.6 Q500.8 664.1 499.2 664.1 L483.4 664.1 Q481.8 664.1 481.8 662.6 L481.8 656.5 L481 655.3 Q478.5 654.2 479.2 652 L481.1 649.5 L480.3 647.5 L481.5 645.5 Z" fill="#f3f3f3" stroke="#1c1c1c" stroke-width="1.25" />
<rect x="485.5" y="624.5" width="11.5" height="15.7" fill="#eef3f0" stroke="#1c1c1c" stroke-width="1.1" rx="0" />
<line x1="485.5" y1="640.2" x2="497" y2="640.2" stroke="#1c1c1c" stroke-width="1.8" />
<line x1="488" y1="640" x2="488" y2="646.5" stroke="#1c1c1c" stroke-width="1.5" />
<line x1="494.5" y1="640" x2="494.5" y2="646.5" stroke="#1c1c1c" stroke-width="1.5" />
<line x1="488" y1="665.5" x2="494.5" y2="665.5" stroke="#1c1c1c" stroke-width="1.5" />
<path d="M634.3 43.5 Q634.3 42.3 635.5 42.3 L685.4 42.3 Q686.6 42.3 686.6 43.5 L686.6 83 L685.8 84.2 L687.4 518.7 Q689.4 522 689.4 526 L689.4 561.4 L631 561.4 L631 526 Q631 522 633 518.7 L635.4 84.2 L634.3 83 Z" fill="#fff" stroke="#3a3a3a" stroke-width="1.3" />
<rect x="634.9" y="43.2" width="3.3" height="39.6" fill="#c4c4c4" stroke="none" stroke-width="0" rx="0" />
<rect x="682.9" y="43.2" width="3.2" height="39.6" fill="#c4c4c4" stroke="none" stroke-width="0" rx="0" />
<path d="M638.3 48 L682.7 48 L683.9 511.2 L636.7 511.2 Z" fill="#ebebeb" stroke="none" stroke-width="0" />
<line x1="638.3" y1="48" x2="636.7" y2="511.2" stroke="#1c1c1c" stroke-width="1.2" />
<line x1="682.7" y1="48" x2="683.9" y2="511.2" stroke="#1c1c1c" stroke-width="1.2" />
<line x1="634.3" y1="42.6" x2="686.6" y2="42.6" stroke="#1c1c1c" stroke-width="2.2" />
<rect x="635.5" y="43.6" width="49.8" height="4.9" fill="#f6f6f6" stroke="none" stroke-width="0" rx="0" />
<rect x="637.6" y="48.5" width="45.7" height="11.7" fill="#ebebeb" stroke="#1c1c1c" stroke-width="1.8" rx="0" />
<line x1="638.3" y1="72.3" x2="682.9" y2="72.3" stroke="#1c1c1c" stroke-width="1.4" />
<line x1="637.7" y1="379.3" x2="683.2" y2="379.3" stroke="#1c1c1c" stroke-width="1.3" />
<line x1="636.7" y1="511.2" x2="683.8" y2="511.2" stroke="#1c1c1c" stroke-width="1.3" />
<rect x="638" y="511.2" width="44.9" height="16.8" fill="#ebebeb" stroke="#1c1c1c" stroke-width="1.2" rx="0" />
<rect x="636.7" y="528" width="47.1" height="10.3" fill="#ebebeb" stroke="#1c1c1c" stroke-width="1.2" rx="0" />
<rect x="633.9" y="538.3" width="53.1" height="17.2" fill="#ebebeb" stroke="#1c1c1c" stroke-width="1.2" rx="1" />
<rect x="633" y="555.5" width="54.5" height="1.9" fill="#ebebeb" stroke="#1c1c1c" stroke-width="1.2" rx="0" />
<rect x="633" y="557.4" width="54.5" height="3.8" fill="#f6f6f6" stroke="#1c1c1c" stroke-width="1.2" rx="0" />
<line x1="631.5" y1="568.7" x2="691" y2="568.7" stroke="#1c1c1c" stroke-width="1.6" />
<rect x="638.4" y="576.3" width="44" height="18" fill="#ebebeb" stroke="#1c1c1c" stroke-width="1.8" rx="0" />
<rect x="636.8" y="600" width="47.3" height="13.5" fill="#ebebeb" stroke="#1c1c1c" stroke-width="1.6" rx="1" />
<rect x="633.9" y="618.5" width="52.8" height="6.9" fill="#ebebeb" stroke="#1c1c1c" stroke-width="1.4" rx="1.5" />
<line x1="636" y1="621" x2="684" y2="621" stroke="#1c1c1c" stroke-width="1" />
<path d="M634 632.5 Q634 630.3 636.5 630.3 L684.2 630.3 Q686.7 630.3 686.7 632.5 L686.7 637 Q686.7 639.8 683.5 639.8 L637 639.8 Q634 639.8 634 637 Z" fill="#ebebeb" stroke="#1c1c1c" stroke-width="1.3" />
<line x1="636" y1="639.2" x2="685" y2="639.2" stroke="#1c1c1c" stroke-width="2" />
<line x1="633" y1="646" x2="687.6" y2="646" stroke="#1c1c1c" stroke-width="1.6" />
<path d="M630.8 653.5 Q630.8 652.4 632 652.4 L688.5 652.4 Q689.7 652.4 689.7 653.5 L689.7 655 Q689.7 656.3 688 656.3 L685.9 658 L685.9 660.5 Q685.9 661.8 684.4 661.8 L636.2 661.8 Q634.7 661.8 634.7 660.5 L634.7 658 L632.5 656.3 Q630.8 656.3 630.8 655 Z" fill="#ebebeb" stroke="#1c1c1c" stroke-width="1.4" />
<line x1="635" y1="658" x2="685.6" y2="658" stroke="#1c1c1c" stroke-width="0.9" />
<line x1="660.7" y1="32.7" x2="660.7" y2="700" stroke="#3d8a6e" stroke-width="1.1" stroke-dasharray="17 4.5 2.4 4.5"/>
<line x1="78" y1="112" x2="78" y2="222" stroke="#3d8a6e" stroke-width="0.9" stroke-dasharray="14 2.5 2 2.5"/>
<line x1="78" y1="309" x2="78" y2="646" stroke="#3d8a6e" stroke-width="0.9" stroke-dasharray="14 2.5 2 2.5"/>
<line x1="152.4" y1="66" x2="152.4" y2="137" stroke="#3d8a6e" stroke-width="0.9" stroke-dasharray="14 2.5 2 2.5"/>
<line x1="141.5" y1="42" x2="141.5" y2="75" stroke="#3d8a6e" stroke-width="0.8" stroke-dasharray="3 2"/>
<line x1="151.6" y1="362" x2="151.6" y2="529" stroke="#3d8a6e" stroke-width="0.9" stroke-dasharray="14 2.5 2 2.5"/>
<line x1="355.5" y1="238" x2="355.5" y2="358" stroke="#3d8a6e" stroke-width="0.9" stroke-dasharray="14 2.5 2 2.5"/>
<line x1="344" y1="470.4" x2="344" y2="680" stroke="#3d8a6e" stroke-width="0.9" stroke-dasharray="14 2.5 2 2.5"/>
<line x1="543.3" y1="36" x2="543.3" y2="82" stroke="#3d8a6e" stroke-width="0.9" stroke-dasharray="14 2.5 2 2.5"/>
<line x1="543.3" y1="466" x2="543.3" y2="490" stroke="#3d8a6e" stroke-width="0.9" stroke-dasharray="14 2.5 2 2.5"/>
<line x1="570.5" y1="110" x2="570.5" y2="115" stroke="#3d8a6e" stroke-width="0.9" stroke-dasharray="14 2.5 2 2.5"/>
<line x1="570.5" y1="486" x2="570.5" y2="490" stroke="#3d8a6e" stroke-width="0.9" stroke-dasharray="14 2.5 2 2.5"/>
<line x1="491.2" y1="560" x2="491.2" y2="678" stroke="#3d8a6e" stroke-width="0.9" stroke-dasharray="14 2.5 2 2.5"/>
<line x1="33.7" y1="52.84" x2="58.8" y2="52.4" stroke="#a0555f" stroke-width="0.9" />
<circle cx="24.7" cy="53" r="9.0" fill="#fff" stroke="#8f4c57" stroke-width="1.25"/>
<text x="25.4" y="57.6" text-anchor="middle" font-size="13.3" fill="#9a4853" stroke="#9a4853" stroke-width="0.25" textLength="11.5" lengthAdjust="spacingAndGlyphs">06</text>
<line x1="33.7" y1="107.6" x2="69.3" y2="107.6" stroke="#a0555f" stroke-width="0.9" />
<circle cx="24.7" cy="107.6" r="9.0" fill="#fff" stroke="#8f4c57" stroke-width="1.25"/>
<text x="25.4" y="112.19999999999999" text-anchor="middle" font-size="13.3" fill="#9a4853" stroke="#9a4853" stroke-width="0.25" textLength="11.5" lengthAdjust="spacingAndGlyphs">16</text>
<line x1="33.7" y1="189.0" x2="72.6" y2="189" stroke="#a0555f" stroke-width="0.9" />
<circle cx="24.7" cy="189" r="9.0" fill="#fff" stroke="#8f4c57" stroke-width="1.25"/>
<text x="25.4" y="193.6" text-anchor="middle" font-size="13.3" fill="#9a4853" stroke="#9a4853" stroke-width="0.25" textLength="11.5" lengthAdjust="spacingAndGlyphs">33</text>
<line x1="33.7" y1="244.0" x2="75.8" y2="244" stroke="#a0555f" stroke-width="0.9" />
<circle cx="24.7" cy="244" r="9.0" fill="#fff" stroke="#8f4c57" stroke-width="1.25"/>
<text x="25.4" y="248.6" text-anchor="middle" font-size="13.3" fill="#9a4853" stroke="#9a4853" stroke-width="0.25" textLength="11.5" lengthAdjust="spacingAndGlyphs">36</text>
<line x1="33.19" y1="323.01" x2="65" y2="311.8" stroke="#a0555f" stroke-width="0.9" />
<circle cx="24.7" cy="326" r="9.0" fill="#fff" stroke="#8f4c57" stroke-width="1.25"/>
<text x="25.4" y="330.6" text-anchor="middle" font-size="13.3" fill="#9a4853" stroke="#9a4853" stroke-width="0.25" textLength="11.5" lengthAdjust="spacingAndGlyphs">12</text>
<line x1="33.69" y1="352.67" x2="65.5" y2="351.5" stroke="#a0555f" stroke-width="0.9" />
<circle cx="24.7" cy="353" r="9.0" fill="#fff" stroke="#8f4c57" stroke-width="1.25"/>
<text x="25.4" y="357.6" text-anchor="middle" font-size="13.3" fill="#9a4853" stroke="#9a4853" stroke-width="0.25" textLength="11.5" lengthAdjust="spacingAndGlyphs">24</text>
<line x1="33.5" y1="409.88" x2="65" y2="416.6" stroke="#a0555f" stroke-width="0.9" />
<circle cx="24.7" cy="408" r="9.0" fill="#fff" stroke="#8f4c57" stroke-width="1.25"/>
<text x="25.4" y="412.6" text-anchor="middle" font-size="13.3" fill="#9a4853" stroke="#9a4853" stroke-width="0.25" textLength="11.5" lengthAdjust="spacingAndGlyphs">25</text>
<line x1="33.7" y1="435.6" x2="60.5" y2="435.6" stroke="#a0555f" stroke-width="0.9" />
<circle cx="24.7" cy="435.6" r="9.0" fill="#fff" stroke="#8f4c57" stroke-width="1.25"/>
<text x="25.4" y="440.20000000000005" text-anchor="middle" font-size="13.3" fill="#9a4853" stroke="#9a4853" stroke-width="0.25" textLength="11.5" lengthAdjust="spacingAndGlyphs">26</text>
<line x1="33.67" y1="490.77" x2="75" y2="494.3" stroke="#a0555f" stroke-width="0.9" />
<circle cx="24.7" cy="490" r="9.0" fill="#fff" stroke="#8f4c57" stroke-width="1.25"/>
<text x="25.4" y="494.6" text-anchor="middle" font-size="13.3" fill="#9a4853" stroke="#9a4853" stroke-width="0.25" textLength="11.5" lengthAdjust="spacingAndGlyphs">42</text>
<line x1="33.53" y1="515.25" x2="75" y2="507" stroke="#a0555f" stroke-width="0.9" />
<circle cx="24.7" cy="517" r="9.0" fill="#fff" stroke="#8f4c57" stroke-width="1.25"/>
<text x="25.4" y="521.6" text-anchor="middle" font-size="13.3" fill="#9a4853" stroke="#9a4853" stroke-width="0.25" textLength="11.5" lengthAdjust="spacingAndGlyphs">44</text>
<line x1="33.7" y1="572.67" x2="71" y2="573.8" stroke="#a0555f" stroke-width="0.9" />
<circle cx="24.7" cy="572.4" r="9.0" fill="#fff" stroke="#8f4c57" stroke-width="1.25"/>
<text x="25.4" y="577.0" text-anchor="middle" font-size="13.3" fill="#9a4853" stroke="#9a4853" stroke-width="0.25" textLength="11.5" lengthAdjust="spacingAndGlyphs">63</text>
<line x1="33.24" y1="596.75" x2="65.4" y2="586" stroke="#a0555f" stroke-width="0.9" />
<circle cx="24.7" cy="599.6" r="9.0" fill="#fff" stroke="#8f4c57" stroke-width="1.25"/>
<text x="25.4" y="604.2" text-anchor="middle" font-size="13.3" fill="#9a4853" stroke="#9a4853" stroke-width="0.25" textLength="11.5" lengthAdjust="spacingAndGlyphs">62</text>
<line x1="32.53" y1="621.56" x2="67" y2="602" stroke="#a0555f" stroke-width="0.9" />
<circle cx="24.7" cy="626" r="9.0" fill="#fff" stroke="#8f4c57" stroke-width="1.25"/>
<text x="25.4" y="630.6" text-anchor="middle" font-size="13.3" fill="#9a4853" stroke="#9a4853" stroke-width="0.25" textLength="11.5" lengthAdjust="spacingAndGlyphs">59</text>
<line x1="32.72" y1="648.92" x2="68" y2="631" stroke="#a0555f" stroke-width="0.9" />
<circle cx="24.7" cy="653" r="9.0" fill="#fff" stroke="#8f4c57" stroke-width="1.25"/>
<text x="25.4" y="657.6" text-anchor="middle" font-size="13.3" fill="#9a4853" stroke="#9a4853" stroke-width="0.25" textLength="11.5" lengthAdjust="spacingAndGlyphs">51</text>
<line x1="126.66" y1="577.61" x2="82.4" y2="609" stroke="#a0555f" stroke-width="0.9" />
<circle cx="134" cy="572.4" r="9.0" fill="#fff" stroke="#8f4c57" stroke-width="1.25"/>
<text x="134.7" y="577.0" text-anchor="middle" font-size="13.3" fill="#9a4853" stroke="#9a4853" stroke-width="0.25" textLength="11.5" lengthAdjust="spacingAndGlyphs">53</text>
<line x1="125.62" y1="602.88" x2="89" y2="617.2" stroke="#a0555f" stroke-width="0.9" />
<circle cx="134" cy="599.6" r="9.0" fill="#fff" stroke="#8f4c57" stroke-width="1.25"/>
<text x="134.7" y="604.2" text-anchor="middle" font-size="13.3" fill="#9a4853" stroke="#9a4853" stroke-width="0.25" textLength="11.5" lengthAdjust="spacingAndGlyphs">57</text>
<line x1="125.02" y1="626.45" x2="85" y2="624" stroke="#a0555f" stroke-width="0.9" />
<circle cx="134" cy="627" r="9.0" fill="#fff" stroke="#8f4c57" stroke-width="1.25"/>
<text x="134.7" y="631.6" text-anchor="middle" font-size="13.3" fill="#9a4853" stroke="#9a4853" stroke-width="0.25" textLength="11.5" lengthAdjust="spacingAndGlyphs">55</text>
<line x1="125.33" y1="651.19" x2="85" y2="640" stroke="#a0555f" stroke-width="0.9" />
<circle cx="134" cy="653.6" r="9.0" fill="#fff" stroke="#8f4c57" stroke-width="1.25"/>
<text x="134.7" y="658.2" text-anchor="middle" font-size="13.3" fill="#9a4853" stroke="#9a4853" stroke-width="0.25" textLength="11.5" lengthAdjust="spacingAndGlyphs">65</text>
<line x1="234.62" y1="51.76" x2="145.2" y2="45.4" stroke="#a0555f" stroke-width="0.9" />
<circle cx="243.6" cy="52.4" r="9.0" fill="#fff" stroke="#8f4c57" stroke-width="1.25"/>
<text x="244.29999999999998" y="57.0" text-anchor="middle" font-size="13.3" fill="#9a4853" stroke="#9a4853" stroke-width="0.25" textLength="11.5" lengthAdjust="spacingAndGlyphs">09</text>
<line x1="234.82" y1="77.61" x2="145" y2="57.3" stroke="#a0555f" stroke-width="0.9" />
<circle cx="243.6" cy="79.6" r="9.0" fill="#fff" stroke="#8f4c57" stroke-width="1.25"/>
<text x="244.29999999999998" y="84.19999999999999" text-anchor="middle" font-size="13.3" fill="#9a4853" stroke="#9a4853" stroke-width="0.25" textLength="11.5" lengthAdjust="spacingAndGlyphs">10</text>
<line x1="234.74" y1="132.83" x2="173.6" y2="122" stroke="#a0555f" stroke-width="0.9" />
<circle cx="243.6" cy="134.4" r="9.0" fill="#fff" stroke="#8f4c57" stroke-width="1.25"/>
<text x="244.29999999999998" y="139.0" text-anchor="middle" font-size="13.3" fill="#9a4853" stroke="#9a4853" stroke-width="0.25" textLength="11.5" lengthAdjust="spacingAndGlyphs">07</text>
<line x1="235.4" y1="158.28" x2="171.7" y2="129.4" stroke="#a0555f" stroke-width="0.9" />
<circle cx="243.6" cy="162" r="9.0" fill="#fff" stroke="#8f4c57" stroke-width="1.25"/>
<text x="244.29999999999998" y="166.6" text-anchor="middle" font-size="13.3" fill="#9a4853" stroke="#9a4853" stroke-width="0.25" textLength="11.5" lengthAdjust="spacingAndGlyphs">08</text>
<line x1="207.68" y1="378.76" x2="169.6" y2="369" stroke="#a0555f" stroke-width="0.9" />
<circle cx="216.4" cy="381" r="9.0" fill="#fff" stroke="#8f4c57" stroke-width="1.25"/>
<text x="217.1" y="385.6" text-anchor="middle" font-size="13.3" fill="#9a4853" stroke="#9a4853" stroke-width="0.25" textLength="11.5" lengthAdjust="spacingAndGlyphs">27</text>
<line x1="208.27" y1="404.14" x2="168" y2="385" stroke="#a0555f" stroke-width="0.9" />
<circle cx="216.4" cy="408" r="9.0" fill="#fff" stroke="#8f4c57" stroke-width="1.25"/>
<text x="217.1" y="412.6" text-anchor="middle" font-size="13.3" fill="#9a4853" stroke="#9a4853" stroke-width="0.25" textLength="11.5" lengthAdjust="spacingAndGlyphs">28</text>
<line x1="207.75" y1="465.18" x2="163" y2="478" stroke="#a0555f" stroke-width="0.9" />
<circle cx="216.4" cy="462.7" r="9.0" fill="#fff" stroke="#8f4c57" stroke-width="1.25"/>
<text x="217.1" y="467.3" text-anchor="middle" font-size="13.3" fill="#9a4853" stroke="#9a4853" stroke-width="0.25" textLength="11.5" lengthAdjust="spacingAndGlyphs">29</text>
<line x1="207.54" y1="491.6" x2="161" y2="500" stroke="#a0555f" stroke-width="0.9" />
<circle cx="216.4" cy="490" r="9.0" fill="#fff" stroke="#8f4c57" stroke-width="1.25"/>
<text x="217.1" y="494.6" text-anchor="middle" font-size="13.3" fill="#9a4853" stroke="#9a4853" stroke-width="0.25" textLength="11.5" lengthAdjust="spacingAndGlyphs">31</text>
<line x1="207.44" y1="518.43" x2="169" y2="522" stroke="#a0555f" stroke-width="0.9" />
<circle cx="216.4" cy="517.6" r="9.0" fill="#fff" stroke="#8f4c57" stroke-width="1.25"/>
<text x="217.1" y="522.2" text-anchor="middle" font-size="13.3" fill="#9a4853" stroke="#9a4853" stroke-width="0.25" textLength="11.5" lengthAdjust="spacingAndGlyphs">30</text>
<line x1="303.08" y1="169.63" x2="349.3" y2="243.4" stroke="#a0555f" stroke-width="0.9" />
<circle cx="298.3" cy="162" r="9.0" fill="#fff" stroke="#8f4c57" stroke-width="1.25"/>
<text x="299.0" y="166.6" text-anchor="middle" font-size="13.3" fill="#9a4853" stroke="#9a4853" stroke-width="0.25" textLength="11.5" lengthAdjust="spacingAndGlyphs">66</text>
<line x1="303.99" y1="196.67" x2="349.3" y2="252.2" stroke="#a0555f" stroke-width="0.9" />
<circle cx="298.3" cy="189.7" r="9.0" fill="#fff" stroke="#8f4c57" stroke-width="1.25"/>
<text x="299.0" y="194.29999999999998" text-anchor="middle" font-size="13.3" fill="#9a4853" stroke="#9a4853" stroke-width="0.25" textLength="11.5" lengthAdjust="spacingAndGlyphs">64</text>
<line x1="304.5" y1="223.23" x2="343.2" y2="264" stroke="#a0555f" stroke-width="0.9" />
<circle cx="298.3" cy="216.7" r="9.0" fill="#fff" stroke="#8f4c57" stroke-width="1.25"/>
<text x="299.0" y="221.29999999999998" text-anchor="middle" font-size="13.3" fill="#9a4853" stroke="#9a4853" stroke-width="0.25" textLength="11.5" lengthAdjust="spacingAndGlyphs">61</text>
<line x1="306.1" y1="248.7" x2="343.7" y2="270.4" stroke="#a0555f" stroke-width="0.9" />
<circle cx="298.3" cy="244.2" r="9.0" fill="#fff" stroke="#8f4c57" stroke-width="1.25"/>
<text x="299.0" y="248.79999999999998" text-anchor="middle" font-size="13.3" fill="#9a4853" stroke="#9a4853" stroke-width="0.25" textLength="11.5" lengthAdjust="spacingAndGlyphs">60</text>
<line x1="306.88" y1="274.43" x2="350.8" y2="288.4" stroke="#a0555f" stroke-width="0.9" />
<circle cx="298.3" cy="271.7" r="9.0" fill="#fff" stroke="#8f4c57" stroke-width="1.25"/>
<text x="299.0" y="276.3" text-anchor="middle" font-size="13.3" fill="#9a4853" stroke="#9a4853" stroke-width="0.25" textLength="11.5" lengthAdjust="spacingAndGlyphs">54</text>
<line x1="307.28" y1="297.76" x2="344.6" y2="295.5" stroke="#a0555f" stroke-width="0.9" />
<circle cx="298.3" cy="298.3" r="9.0" fill="#fff" stroke="#8f4c57" stroke-width="1.25"/>
<text x="299.0" y="302.90000000000003" text-anchor="middle" font-size="13.3" fill="#9a4853" stroke="#9a4853" stroke-width="0.25" textLength="11.5" lengthAdjust="spacingAndGlyphs">58</text>
<line x1="306.46" y1="322.01" x2="349.5" y2="302" stroke="#a0555f" stroke-width="0.9" />
<circle cx="298.3" cy="325.8" r="9.0" fill="#fff" stroke="#8f4c57" stroke-width="1.25"/>
<text x="299.0" y="330.40000000000003" text-anchor="middle" font-size="13.3" fill="#9a4853" stroke="#9a4853" stroke-width="0.25" textLength="11.5" lengthAdjust="spacingAndGlyphs">56</text>
<line x1="305.0" y1="347.29" x2="346.5" y2="310" stroke="#a0555f" stroke-width="0.9" />
<circle cx="298.3" cy="353.3" r="9.0" fill="#fff" stroke="#8f4c57" stroke-width="1.25"/>
<text x="299.0" y="357.90000000000003" text-anchor="middle" font-size="13.3" fill="#9a4853" stroke="#9a4853" stroke-width="0.25" textLength="11.5" lengthAdjust="spacingAndGlyphs">52</text>
<line x1="305.67" y1="374.83" x2="348.2" y2="345" stroke="#a0555f" stroke-width="0.9" />
<circle cx="298.3" cy="380" r="9.0" fill="#fff" stroke="#8f4c57" stroke-width="1.25"/>
<text x="299.0" y="384.6" text-anchor="middle" font-size="13.3" fill="#9a4853" stroke="#9a4853" stroke-width="0.25" textLength="11.5" lengthAdjust="spacingAndGlyphs">50</text>
<line x1="446.6" y1="307.3" x2="429.5" y2="307.3" stroke="#a0555f" stroke-width="0.9" />
<circle cx="455.6" cy="307.3" r="9.0" fill="#fff" stroke="#8f4c57" stroke-width="1.25"/>
<text x="456.3" y="311.90000000000003" text-anchor="middle" font-size="13.3" fill="#9a4853" stroke="#9a4853" stroke-width="0.25" textLength="11.5" lengthAdjust="spacingAndGlyphs">48</text>
<line x1="306.23" y1="543.55" x2="335.8" y2="532.5" stroke="#a0555f" stroke-width="0.9" />
<circle cx="297.8" cy="546.7" r="9.0" fill="#fff" stroke="#8f4c57" stroke-width="1.25"/>
<text x="298.5" y="551.3000000000001" text-anchor="middle" font-size="13.3" fill="#9a4853" stroke="#9a4853" stroke-width="0.25" textLength="11.5" lengthAdjust="spacingAndGlyphs">21</text>
<line x1="305.78" y1="569.33" x2="337" y2="553" stroke="#a0555f" stroke-width="0.9" />
<circle cx="297.8" cy="573.5" r="9.0" fill="#fff" stroke="#8f4c57" stroke-width="1.25"/>
<text x="298.5" y="578.1" text-anchor="middle" font-size="13.3" fill="#9a4853" stroke="#9a4853" stroke-width="0.25" textLength="11.5" lengthAdjust="spacingAndGlyphs">23</text>
<line x1="553.3" y1="576.91" x2="499" y2="577" stroke="#a0555f" stroke-width="0.9" />
<circle cx="562.3" cy="576.9" r="9.0" fill="#fff" stroke="#8f4c57" stroke-width="1.25"/>
<text x="563.0" y="581.5" text-anchor="middle" font-size="13.3" fill="#9a4853" stroke="#9a4853" stroke-width="0.25" textLength="11.5" lengthAdjust="spacingAndGlyphs">82</text>
<line x1="553.3" y1="603.93" x2="501.6" y2="603.5" stroke="#a0555f" stroke-width="0.9" />
<circle cx="562.3" cy="604" r="9.0" fill="#fff" stroke="#8f4c57" stroke-width="1.25"/>
<text x="563.0" y="608.6" text-anchor="middle" font-size="13.3" fill="#9a4853" stroke="#9a4853" stroke-width="0.25" textLength="11.5" lengthAdjust="spacingAndGlyphs">80</text>
<line x1="553.73" y1="628.36" x2="502.5" y2="612" stroke="#a0555f" stroke-width="0.9" />
<circle cx="562.3" cy="631.1" r="9.0" fill="#fff" stroke="#8f4c57" stroke-width="1.25"/>
<text x="563.0" y="635.7" text-anchor="middle" font-size="13.3" fill="#9a4853" stroke="#9a4853" stroke-width="0.25" textLength="11.5" lengthAdjust="spacingAndGlyphs">81</text>
<line x1="553.3" y1="658.91" x2="498" y2="659" stroke="#a0555f" stroke-width="0.9" />
<circle cx="562.3" cy="658.9" r="9.0" fill="#fff" stroke="#8f4c57" stroke-width="1.25"/>
<text x="563.0" y="663.5" text-anchor="middle" font-size="13.3" fill="#9a4853" stroke="#9a4853" stroke-width="0.25" textLength="11.5" lengthAdjust="spacingAndGlyphs">83</text>
<line x1="722.7" y1="489.5" x2="682.4" y2="489.5" stroke="#a0555f" stroke-width="0.9" />
<circle cx="731.7" cy="489.5" r="9.0" fill="#fff" stroke="#8f4c57" stroke-width="1.25"/>
<text x="732.4000000000001" y="494.1" text-anchor="middle" font-size="13.3" fill="#9a4853" stroke="#9a4853" stroke-width="0.25" textLength="11.5" lengthAdjust="spacingAndGlyphs">75</text>
<line x1="724.94" y1="538.34" x2="690.8" y2="568.3" stroke="#a0555f" stroke-width="0.9" />
<circle cx="731.7" cy="532.4" r="9.0" fill="#fff" stroke="#8f4c57" stroke-width="1.25"/>
<text x="732.4000000000001" y="537.0" text-anchor="middle" font-size="13.3" fill="#9a4853" stroke="#9a4853" stroke-width="0.25" textLength="11.5" lengthAdjust="spacingAndGlyphs">91</text>
<line x1="723.83" y1="560.46" x2="677.7" y2="586" stroke="#a0555f" stroke-width="0.9" />
<circle cx="731.7" cy="556.1" r="9.0" fill="#fff" stroke="#8f4c57" stroke-width="1.25"/>
<text x="732.4000000000001" y="560.7" text-anchor="middle" font-size="13.3" fill="#9a4853" stroke="#9a4853" stroke-width="0.25" textLength="11.5" lengthAdjust="spacingAndGlyphs">03</text>
<line x1="723.44" y1="587.38" x2="679.5" y2="606.4" stroke="#a0555f" stroke-width="0.9" />
<circle cx="731.7" cy="583.8" r="9.0" fill="#fff" stroke="#8f4c57" stroke-width="1.25"/>
<text x="732.4000000000001" y="588.4" text-anchor="middle" font-size="13.3" fill="#9a4853" stroke="#9a4853" stroke-width="0.25" textLength="11.5" lengthAdjust="spacingAndGlyphs">04</text>
<line x1="722.93" y1="611.92" x2="686.5" y2="620.3" stroke="#a0555f" stroke-width="0.9" />
<circle cx="731.7" cy="609.9" r="9.0" fill="#fff" stroke="#8f4c57" stroke-width="1.25"/>
<text x="732.4000000000001" y="614.5" text-anchor="middle" font-size="13.3" fill="#9a4853" stroke="#9a4853" stroke-width="0.25" textLength="11.5" lengthAdjust="spacingAndGlyphs">77</text>
<line x1="722.7" y1="635.0" x2="683" y2="635" stroke="#a0555f" stroke-width="0.9" />
<circle cx="731.7" cy="635" r="9.0" fill="#fff" stroke="#8f4c57" stroke-width="1.25"/>
<text x="732.4000000000001" y="639.6" text-anchor="middle" font-size="13.3" fill="#9a4853" stroke="#9a4853" stroke-width="0.25" textLength="11.5" lengthAdjust="spacingAndGlyphs">01</text>
<line x1="723.16" y1="658.15" x2="687.6" y2="646.3" stroke="#a0555f" stroke-width="0.9" />
<circle cx="731.7" cy="661" r="9.0" fill="#fff" stroke="#8f4c57" stroke-width="1.25"/>
<text x="732.4000000000001" y="665.6" text-anchor="middle" font-size="13.3" fill="#9a4853" stroke="#9a4853" stroke-width="0.25" textLength="11.5" lengthAdjust="spacingAndGlyphs">78</text>
<line x1="723.69" y1="680.5" x2="685.6" y2="661" stroke="#a0555f" stroke-width="0.9" />
<circle cx="731.7" cy="684.6" r="9.0" fill="#fff" stroke="#8f4c57" stroke-width="1.25"/>
<text x="732.4000000000001" y="689.2" text-anchor="middle" font-size="13.3" fill="#9a4853" stroke="#9a4853" stroke-width="0.25" textLength="11.5" lengthAdjust="spacingAndGlyphs">02</text>
<line x1="498.19" y1="44.7" x2="541.5" y2="60" stroke="#2a2a2a" stroke-width="0.9" />
<circle cx="489.7" cy="41.7" r="9.0" fill="#fff" stroke="#8f4c57" stroke-width="1.25"/>
<text x="490.4" y="46.300000000000004" text-anchor="middle" font-size="13.3" fill="#9a4853" stroke="#9a4853" stroke-width="0.25" textLength="11.5" lengthAdjust="spacingAndGlyphs">45</text>
<line x1="498.64" y1="71.07" x2="540" y2="76" stroke="#2a2a2a" stroke-width="0.9" />
<circle cx="489.7" cy="70" r="9.0" fill="#fff" stroke="#8f4c57" stroke-width="1.25"/>
<text x="490.4" y="74.6" text-anchor="middle" font-size="13.3" fill="#9a4853" stroke="#9a4853" stroke-width="0.25" textLength="11.5" lengthAdjust="spacingAndGlyphs">43</text>
<line x1="498.7" y1="315.3" x2="537.5" y2="315.3" stroke="#2a2a2a" stroke-width="0.9" />
<circle cx="489.7" cy="315.3" r="9.0" fill="#fff" stroke="#8f4c57" stroke-width="1.25"/>
<text x="490.4" y="319.90000000000003" text-anchor="middle" font-size="13.3" fill="#9a4853" stroke="#9a4853" stroke-width="0.25" textLength="11.5" lengthAdjust="spacingAndGlyphs">34</text>
<line x1="498.7" y1="479.2" x2="568.3" y2="479.2" stroke="#2a2a2a" stroke-width="0.9" />
<circle cx="489.7" cy="479.2" r="9.0" fill="#fff" stroke="#8f4c57" stroke-width="1.25"/>
<text x="490.4" y="483.8" text-anchor="middle" font-size="13.3" fill="#9a4853" stroke="#9a4853" stroke-width="0.25" textLength="11.5" lengthAdjust="spacingAndGlyphs">37</text>
<line x1="36.99" y1="542.44" x2="70.2" y2="541" stroke="#a0555f" stroke-width="0.9" />
<ellipse cx="24" cy="543" rx="12.8" ry="9.0" fill="#fff" stroke="#8f4c57" stroke-width="1.25"/>
<text x="24.2" y="547.6" text-anchor="middle" font-size="13.3" fill="#9a4853" stroke="#9a4853" stroke-width="0.25" textLength="17.8" lengthAdjust="spacingAndGlyphs">49.1</text>
<circle cx="297.8" cy="493.8" r="9.0" fill="#fff" stroke="#8f4c57" stroke-width="1.25"/>
<text x="298.5" y="498.40000000000003" text-anchor="middle" font-size="13.3" fill="#9a4853" stroke="#9a4853" stroke-width="0.25" textLength="11.5" lengthAdjust="spacingAndGlyphs">22</text>
</svg>
</body></html>
